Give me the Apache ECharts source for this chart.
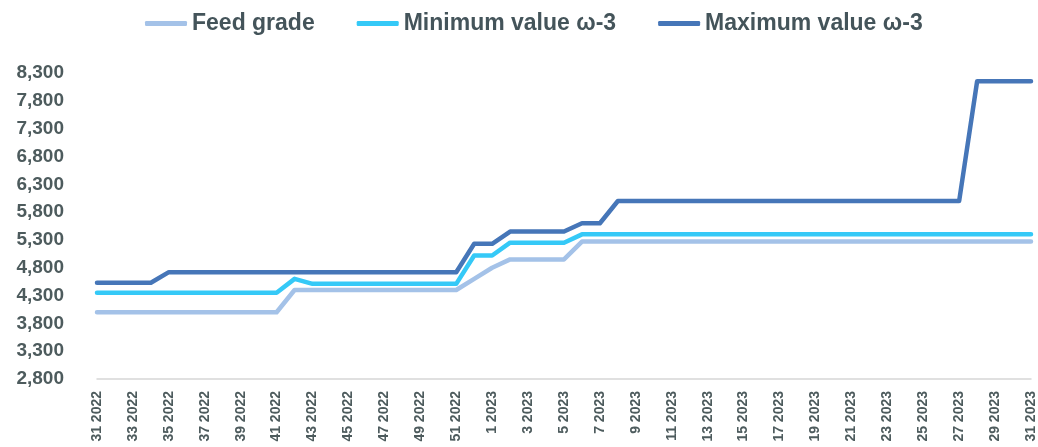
<!DOCTYPE html>
<html>
<head>
<meta charset="utf-8">
<script src="https://cdn.jsdelivr.net/npm/echarts@6/dist/echarts.min.js"></script>
<style>
html,body{margin:0;padding:0;background:#fff;}
#chart{width:1038px;height:447px;}
</style>
</head>
<body>
<div id="chart"></div>
<script>
const categories = [
  "31 2022","32 2022","33 2022","34 2022","35 2022","36 2022","37 2022","38 2022","39 2022","40 2022",
  "41 2022","42 2022","43 2022","44 2022","45 2022","46 2022","47 2022","48 2022","49 2022","50 2022",
  "51 2022","52 2022",
  "1 2023","2 2023","3 2023","4 2023","5 2023","6 2023","7 2023","8 2023","9 2023","10 2023",
  "11 2023","12 2023","13 2023","14 2023","15 2023","16 2023","17 2023","18 2023","19 2023","20 2023",
  "21 2023","22 2023","23 2023","24 2023","25 2023","26 2023","27 2023","28 2023","29 2023","30 2023",
  "31 2023"
];

const feedGrade = [
  4000,4000,4000,4000,4000,4000,4000,4000,4000,4000,
  4000,4400,4400,4400,4400,4400,4400,4400,4400,4400,
  4400,4600,
  4800,4950,4950,4950,4950,5270,5270,5270,5270,5270,
  5270,5270,5270,5270,5270,5270,5270,5270,5270,5270,
  5270,5270,5270,5270,5270,5270,5270,5270,5270,5270,
  5270
];

const minOmega3 = [
  4350,4350,4350,4350,4350,4350,4350,4350,4350,4350,
  4350,4600,4510,4510,4510,4510,4510,4510,4510,4510,
  4510,5020,
  5020,5250,5250,5250,5250,5400,5400,5400,5400,5400,
  5400,5400,5400,5400,5400,5400,5400,5400,5400,5400,
  5400,5400,5400,5400,5400,5400,5400,5400,5400,5400,
  5400
];

const maxOmega3 = [
  4530,4530,4530,4530,4720,4720,4720,4720,4720,4720,
  4720,4720,4720,4720,4720,4720,4720,4720,4720,4720,
  4720,5230,
  5230,5450,5450,5450,5450,5600,5600,6000,6000,6000,
  6000,6000,6000,6000,6000,6000,6000,6000,6000,6000,
  6000,6000,6000,6000,6000,6000,6000,8150,8150,8150,
  8150
];

const yTicks = [2800,3300,3800,4300,4800,5300,5800,6300,6800,7300,7800,8300];

const seriesNames = ["Feed grade","Minimum value \u03c9-3","Maximum value \u03c9-3"];
const seriesColors = ["#a4c2e8","#35c9f7","#4676b8"];
const seriesData = [feedGrade, minOmega3, maxOmega3];

const chart = echarts.init(document.getElementById('chart'), null, {renderer:'canvas'});
const fmt = v => Number(v).toLocaleString('en-US');

chart.setOption({
  backgroundColor: '#ffffff',
  animation: false,
  legend: {
    top: 7,
    left: 140,
    itemGap: 42,
    itemWidth: 42,
    itemHeight: 5,
    icon: 'roundRect',
    textStyle: {
      fontFamily: 'Liberation Sans',
      fontWeight: 'bold',
      fontSize: 23,
      color: '#44545a'
    },
    data: seriesNames
  },
  grid: {
    left: 97,
    right: 6,
    top: 73,
    bottom: 68
  },
  xAxis: {
    type: 'category',
    data: categories,
    boundaryGap: false,
    axisLine: { show: true, lineStyle: { color: '#d6d6d6', width: 1.5 } },
    axisTick: { show: false },
    splitLine: { show: false },
    axisLabel: {
      interval: 1,
      rotate: 90,
      margin: 12,
      fontFamily: 'Liberation Sans',
      fontWeight: 'bold',
      fontSize: 14,
      color: '#4d5b5d'
    }
  },
  yAxis: {
    type: 'value',
    min: 2800,
    max: 8300,
    axisLine: { show: false },
    axisTick: { show: false },
    splitLine: { show: false },
    axisLabel: {
      customValues: yTicks,
      margin: 33,
      formatter: fmt,
      fontFamily: 'Liberation Sans',
      fontWeight: 'bold',
      fontSize: 19,
      color: '#4d5b5d'
    }
  },
  series: seriesNames.map((name, i) => ({
    name: name,
    type: 'line',
    data: seriesData[i],
    showSymbol: false,
    symbol: 'none',
    smooth: false,
    color: seriesColors[i],
    lineStyle: { width: 4.5, color: seriesColors[i], join: 'round', cap: 'round' },
    emphasis: { disabled: true }
  }))
});
</script>
</body>
</html>
